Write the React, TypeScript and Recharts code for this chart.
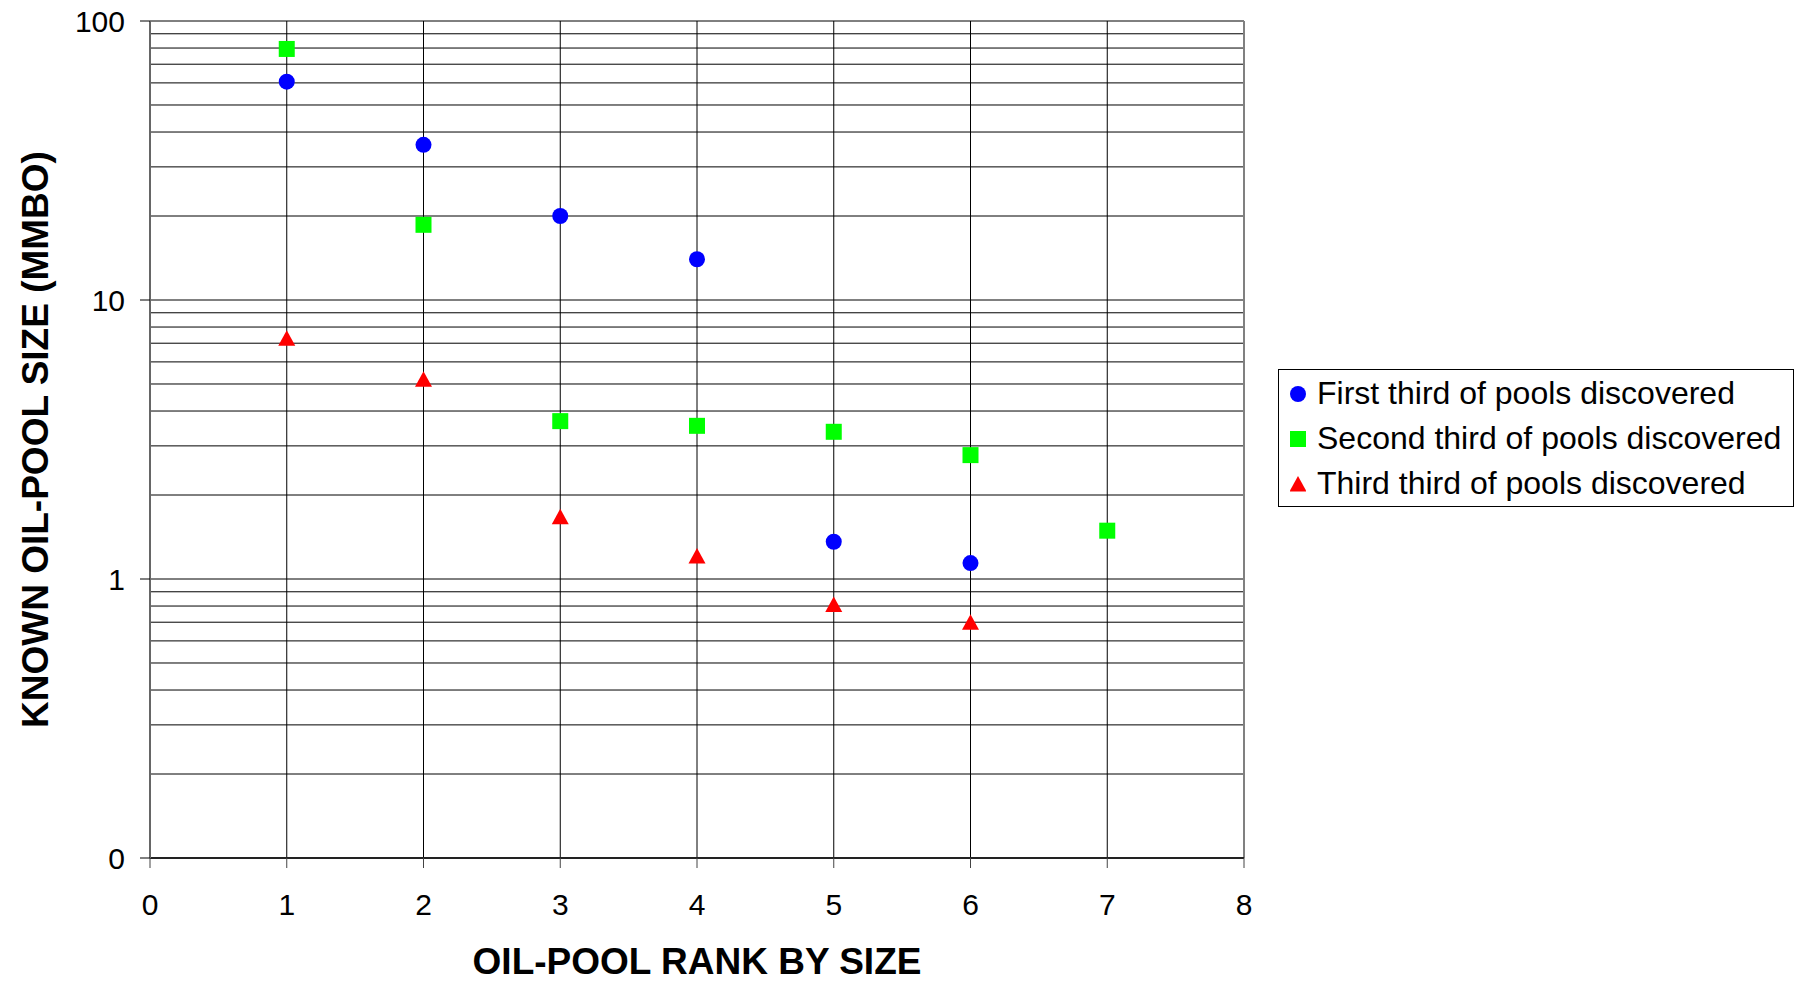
import { ScatterChart, Scatter, XAxis, YAxis, CartesianGrid, Legend, ReferenceLine } from 'recharts';

// oil-pool rank and known size (MMBO)
const firstRanks = [1, 2, 3, 4, 5, 6];
const firstSizes = [60.6, 36.0, 20.0, 14.0, 1.36, 1.14];
const secondRanks = [1, 2, 3, 4, 5, 6, 7];
const secondSizes = [79.4, 18.6, 3.68, 3.54, 3.37, 2.78, 1.49];
const thirdRanks = [1, 2, 3, 4, 5, 6];
const thirdSizes = [7.3, 5.2, 1.67, 1.21, 0.81, 0.7];

const xTicks = [0, 1, 2, 3, 4, 5, 6, 7, 8];
const yTicks = [0.1, 1, 10, 100];
const minorLines = [0.2, 0.3, 0.4, 0.5, 0.6, 0.7, 0.8, 0.9, 2, 3, 4, 5, 6, 7, 8, 9, 20, 30, 40, 50, 60, 70, 80, 90];

const seriesNames = [
  'First third of pools discovered',
  'Second third of pools discovered',
  'Third third of pools discovered',
];
const seriesColors = ['#0000FF', '#00FF00', '#FF0000'];

const toPoints = (xs: number[], ys: number[]) => xs.map((x, i) => ({ x, y: ys[i] }));

const FONT = '"Liberation Sans", Arial, sans-serif';

const Circle = (p: any) => <circle cx={p.cx} cy={p.cy} r={8} fill={seriesColors[0]} />;
const Square = (p: any) => <rect x={p.cx - 8} y={p.cy - 8} width={16} height={16} fill={seriesColors[1]} />;
const Triangle = (p: any) => (
  <polygon
    points={`${p.cx},${p.cy - 8} ${p.cx + 8.5},${p.cy + 7.5} ${p.cx - 8.5},${p.cy + 7.5}`}
    fill={seriesColors[2]}
  />
);

const LegendIcon = ({ i }: { i: number }) => (
  <svg width={16} height={16} style={{ marginRight: 11, flex: 'none' }}>
    {i === 0 && <circle cx={8} cy={8} r={8} fill={seriesColors[0]} />}
    {i === 1 && <rect x={0} y={0} width={16} height={16} fill={seriesColors[1]} />}
    {i === 2 && <polygon points="8,0 16.5,15.5 -0.5,15.5" fill={seriesColors[2]} />}
  </svg>
);

const LegendBox = () => (
  <div
    style={{
      border: '1px solid #000',
      background: '#fff',
      padding: '1px 12px 0px 11px',
      fontFamily: FONT,
      fontSize: 32,
      color: '#000',
      whiteSpace: 'nowrap',
    }}
  >
    {seriesNames.map((name, i) => (
      <div key={name} style={{ display: 'flex', alignItems: 'center', height: 45 }}>
        <LegendIcon i={i} />
        <span>{name}</span>
      </div>
    ))}
  </div>
);

export default function App() {
  return (
    <div style={{ position: 'absolute', left: 0, top: 0, width: 1805, height: 981, background: '#fff' }}>
      <ScatterChart width={1805} height={981} margin={{ top: 21, right: 561, bottom: 0, left: 0 }}>
        <CartesianGrid stroke="#000" verticalFill={[]} horizontalFill={[]} />
        {minorLines.map((v) => (
          <ReferenceLine key={v} y={v} stroke="#000" strokeWidth={1} />
        ))}
        <ReferenceLine x={8} stroke="#808080" strokeWidth={2} />
        <XAxis
          type="number"
          dataKey="x"
          domain={[0, 8]}
          ticks={xTicks}
          allowDataOverflow
          tickSize={10}
          tickMargin={26}
          axisLine={{ stroke: '#222', strokeWidth: 2 }}
          tickLine={{ stroke: '#444' }}
          tick={{ fill: '#000', fontSize: 30, fontFamily: FONT }}
          height={123}
          label={{
            value: 'OIL-POOL RANK BY SIZE',
            position: 'insideBottom',
            offset: 7,
            style: { fill: '#000', fontSize: 37, fontWeight: 'bold', fontFamily: FONT },
          }}
        />
        <YAxis
          type="number"
          dataKey="y"
          scale="log"
          domain={[0.1, 100]}
          ticks={yTicks}
          allowDataOverflow
          tickSize={10}
          tickMargin={15}
          width={150}
          tickFormatter={(v: number) => String(Math.round(v))}
          axisLine={{ stroke: '#666', strokeWidth: 2 }}
          tickLine={{ stroke: '#000' }}
          tick={{ fill: '#000', fontSize: 30, fontFamily: FONT }}
          label={{
            value: 'KNOWN OIL-POOL SIZE (MMBO)',
            angle: -90,
            position: 'insideLeft',
            offset: 35,
            style: { fill: '#000', fontSize: 37, fontWeight: 'bold', fontFamily: FONT, textAnchor: 'middle' },
          }}
        />
        <Legend
          layout="vertical"
          align="center"
          verticalAlign="middle"
          content={() => <LegendBox />}
          wrapperStyle={{ left: 1278, top: 369, width: 'auto', height: 'auto' }}
        />
        <Scatter name={seriesNames[0]} data={toPoints(firstRanks, firstSizes)} shape={Circle} isAnimationActive={false} />
        <Scatter name={seriesNames[1]} data={toPoints(secondRanks, secondSizes)} shape={Square} isAnimationActive={false} />
        <Scatter name={seriesNames[2]} data={toPoints(thirdRanks, thirdSizes)} shape={Triangle} isAnimationActive={false} />
      </ScatterChart>
    </div>
  );
}
